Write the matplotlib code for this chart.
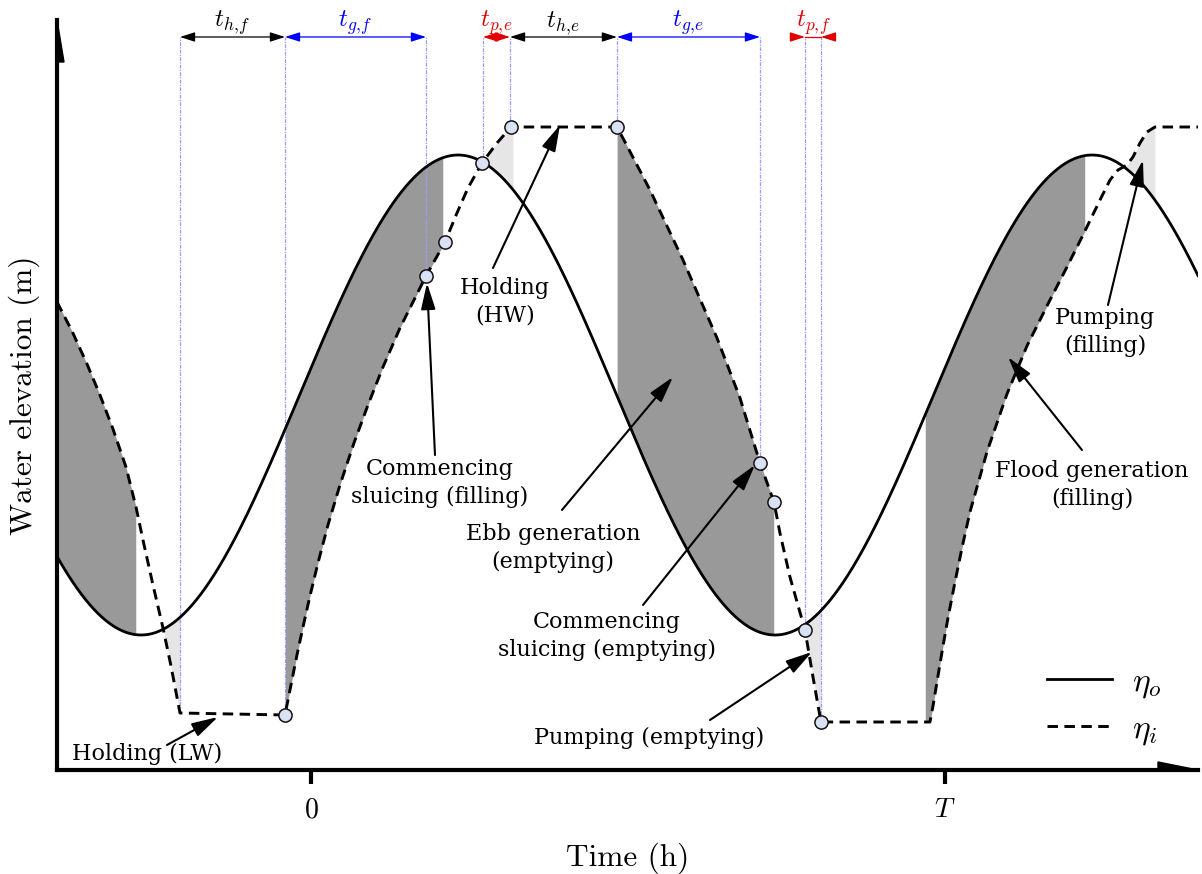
import numpy as np
import matplotlib
matplotlib.use("Agg")
import matplotlib.pyplot as plt
from matplotlib.patches import Polygon

plt.rcParams['mathtext.fontset'] = 'cm'

# ---------------- data (time in units of the tidal period T, elevation in units of tidal amplitude)
tide_amplitude = 1.0
tide_period = 1.0
tide_hw_time = 0.232          # time of high water of the outer tide

# inner (lagoon) water level
t_inner = [-0.4006, -0.3770, -0.3533, -0.3328, -0.3123, -0.2918, -0.2760, -0.2650, -0.2492, -0.2334,
           -0.2208, -0.2066,
           -0.0410, -0.0363, -0.0300, -0.0221, -0.0126, -0.0016, 0.0110, 0.0268, 0.0457, 0.0678,
           0.0899, 0.1136, 0.1404, 0.1672, 0.1814,
           0.2114, 0.2303, 0.2476, 0.2697, 0.2934, 0.3155,
           0.4826, 0.4953, 0.5347, 0.5868, 0.6404, 0.6767, 0.7082, 0.7303, 0.7397, 0.7555,
           0.7792, 0.7918, 0.8044,
           0.9763, 0.9811, 0.9874, 0.9953, 1.0047, 1.0158, 1.0268, 1.0394, 1.0662, 1.0978,
           1.1293, 1.1656, 1.1924, 1.2177,
           1.2445, 1.2603, 1.2729, 1.2871, 1.2965, 1.3076, 1.3186, 1.3312, 1.3991]
eta_inner = [0.3875, 0.2667, 0.1292, 0.0000, -0.1417, -0.3000, -0.4667, -0.6042, -0.7917, -0.9708,
             -1.1292, -1.3250,
             -1.3333, -1.2708, -1.1875, -1.0833, -0.9667, -0.8375, -0.7000, -0.5417, -0.3750, -0.2000,
             -0.0417, 0.1167, 0.2792, 0.4208, 0.4958,
             0.6375, 0.7583, 0.8625, 0.9667, 1.0500, 1.1167,
             1.1167, 1.0542, 0.8542, 0.5625, 0.2375, -0.0125, -0.2833, -0.4458, -0.5750, -0.7583,
             -0.9792, -1.1750, -1.3625,
             -1.3625, -1.2958, -1.1958, -1.0708, -0.9292, -0.7792, -0.6375, -0.4875, -0.2375, 0.0042,
             0.2042, 0.3958, 0.5333, 0.6667,
             0.8125, 0.8958, 0.9375, 0.9583, 0.9917, 1.0500, 1.0958, 1.1167, 1.1167]

# operation switch times and inner level there
event_times = [-0.2066, -0.0410, 0.1814, 0.2713, 0.3139, 0.4826, 0.7082, 0.7792, 0.8044]
event_levels = [-1.3250, -1.3333, 0.4958, 0.9625, 1.1167, 1.1167, -0.2833, -0.9792, -1.3625]

# circle markers on the inner curve
marker_t = [-0.0410, 0.1814, 0.2114, 0.2697, 0.3155, 0.4826, 0.7082, 0.7303, 0.7792, 0.8044]
marker_eta = [-1.3333, 0.4958, 0.6375, 0.9667, 1.1167, 1.1167, -0.2833, -0.4458, -0.9792, -1.3625]

# generation (dark) and pumping (light) shaded intervals
generation_start = [-0.4006, -0.0410, 0.4826, 0.9685]
generation_end = [-0.2760, 0.2082, 0.7303, 1.2208]
pumping_start = [-0.2334, 0.2697, 0.7792, 1.2855]
pumping_end = [-0.2066, 0.3186, 0.8044, 1.3312]

# duration labels at the top
period_labels = [r'$t_{h,\!f}$', r'$t_{g,\!f}$', r'$t_{p,\!e}$', r'$t_{h,\!e}$', r'$t_{g,\!e}$',
                 r'$t_{p,\!f}$']
period_start = [-0.2066, -0.0410, 0.2713, 0.3139, 0.4826, 0.7792]
period_end = [-0.0410, 0.1814, 0.3139, 0.4826, 0.7082, 0.8044]
period_colors = ['black', '#0000ff', '#e00000', 'black', '#0000ff', '#e00000']

# annotations: text, text position, arrow tail, arrow tip
ann_text = ["Holding (LW)", "Commencing\nsluicing (filling)", "Holding\n(HW)",
            "Ebb generation\n(emptying)", "Commencing\nsluicing (emptying)",
            "Pumping (emptying)", "Pumping\n(filling)", "Flood generation\n(filling)"]
ann_xy = [(-0.2587, -1.4958), (0.2035, -0.3667), (0.3060, 0.3875), (0.3817, -0.6375),
          (0.4669, -1.0042), (0.5331, -1.4292), (1.2524, 0.2625), (1.2319, -0.3750)]
ann_tail = [(-0.2271, -1.4583), (0.1956, -0.2500), (0.2871, 0.5292), (0.3959, -0.4792),
            (0.5237, -0.8750), (0.6293, -1.3542), (1.2571, 0.3750), (1.2161, -0.2292)]
ann_tip = [(-0.1467, -1.3417), (0.1830, 0.4667), (0.3927, 1.1250), (0.5710, 0.0750),
           (0.7003, -0.2917), (0.7902, -1.0708), (1.3123, 0.9792), (1.0994, 0.1583)]

x_limits = (-0.4006, 1.3991)
y_limits = (-1.5625, 1.5625)
arrow_row = 1.4917

# ---------------- figure
fig = plt.figure(figsize=(12.02, 8.74), dpi=100)
ax = fig.add_axes([57 / 1202, 104 / 874, 1141 / 1202, 750 / 874])
ax.set_xlim(*x_limits)
ax.set_ylim(*y_limits)

tt = np.linspace(x_limits[0], x_limits[1], 4000)
eta_o = tide_amplitude * np.cos(2 * np.pi * (tt - tide_hw_time) / tide_period)
eta_i = np.interp(tt, t_inner, eta_inner)

for a, b in zip(generation_start, generation_end):
    m = (tt >= a) & (tt <= b)
    ax.fill_between(tt[m], eta_o[m], eta_i[m], color='#999999', lw=0, zorder=1)
for a, b in zip(pumping_start, pumping_end):
    m = (tt >= a) & (tt <= b)
    ax.fill_between(tt[m], eta_o[m], eta_i[m], color='#e6e6e6', lw=0, zorder=1)

for te, le in zip(event_times, event_levels):
    ax.plot([te, te], [le, arrow_row], color='#9b9bff', lw=0.9,
            ls=(0, (3, 1, 1, 1)), zorder=2)

l_o, = ax.plot(tt, eta_o, color='black', lw=2.0, zorder=3, label=r'$\eta_o$')
l_i, = ax.plot(t_inner, eta_inner, color='black', lw=2.1, ls=(0, (3.6, 2.2)), zorder=3,
               label=r'$\eta_i$')
ax.plot(marker_t, marker_eta, ls='none', marker='o', ms=9.5, mfc='#d7e2f4', mec='#1a1010',
        mew=1.1, zorder=6)

# duration arrows
for lab, a, b, c in zip(period_labels, period_start, period_end, period_colors):
    if b - a > 0.03:
        ax.annotate('', xy=(b, arrow_row), xytext=(a, arrow_row),
                    arrowprops=dict(arrowstyle='<|-|>,head_length=0.5,head_width=0.16',
                                    mutation_scale=18, color=c, lw=0.9,
                                    shrinkA=0, shrinkB=0), annotation_clip=False)
    else:
        ext = 0.022
        ax.plot([a, b], [arrow_row, arrow_row], color=c, lw=0.9)
        ax.annotate('', xy=(a, arrow_row), xytext=(a - ext, arrow_row),
                    arrowprops=dict(arrowstyle='-|>,head_length=0.5,head_width=0.16',
                                    mutation_scale=18, color=c, lw=0.9,
                                    shrinkA=0, shrinkB=0), annotation_clip=False)
        ax.annotate('', xy=(b, arrow_row), xytext=(b + ext, arrow_row),
                    arrowprops=dict(arrowstyle='-|>,head_length=0.5,head_width=0.16',
                                    mutation_scale=18, color=c, lw=0.9,
                                    shrinkA=0, shrinkB=0), annotation_clip=False)
    ax.text((a + b) / 2, 1.55, lab, color=c, fontsize=18, ha='center', va='center',
            clip_on=False)

# annotations
for txt, pos, tail, tip in zip(ann_text, ann_xy, ann_tail, ann_tip):
    ax.text(pos[0], pos[1], txt, family='DejaVu Serif', fontsize=16, ha='center',
            va='center', multialignment='center', linespacing=1.3, zorder=7)
    ax.annotate('', xy=tip, xytext=tail,
                arrowprops=dict(arrowstyle='-|>,head_length=0.8,head_width=0.22',
                                mutation_scale=20, color='black', lw=1.5,
                                shrinkA=0, shrinkB=0), zorder=7)

# axes styling
for s in ['top', 'right']:
    ax.spines[s].set_visible(False)
for s in ['left', 'bottom']:
    ax.spines[s].set_linewidth(3)
ax.set_yticks([])
ax.set_xticks([0, 1])
ax.set_xticklabels(['$0$', '$T$'], fontsize=20)
ax.tick_params(axis='x', length=10, width=3, pad=8)
ax.set_xlabel('Time (h)', family='cmr10', fontsize=22.5, labelpad=14)
ax.set_ylabel('Water elevation (m)', family='cmr10', fontsize=22.5, labelpad=12)

# axis arrow heads
ax.add_patch(Polygon([(0, 1), (7 / 1141, 1 - 42 / 750), (0, 1 - 42 / 750)], closed=True,
                     transform=ax.transAxes, color='black', clip_on=False, zorder=8))
ax.add_patch(Polygon([(1, 0), (1 - 40 / 1141, 8 / 750), (1 - 40 / 1141, 0)], closed=True,
                     transform=ax.transAxes, color='black', clip_on=False, zorder=8))

ax.legend(handles=[l_o, l_i], loc='lower right', bbox_to_anchor=(0.98, 0.013),
          frameon=False, fontsize=24, handlelength=1.95, handletextpad=0.6, labelspacing=0.35,
          borderaxespad=0)

fig.savefig('out.png', dpi=100)
